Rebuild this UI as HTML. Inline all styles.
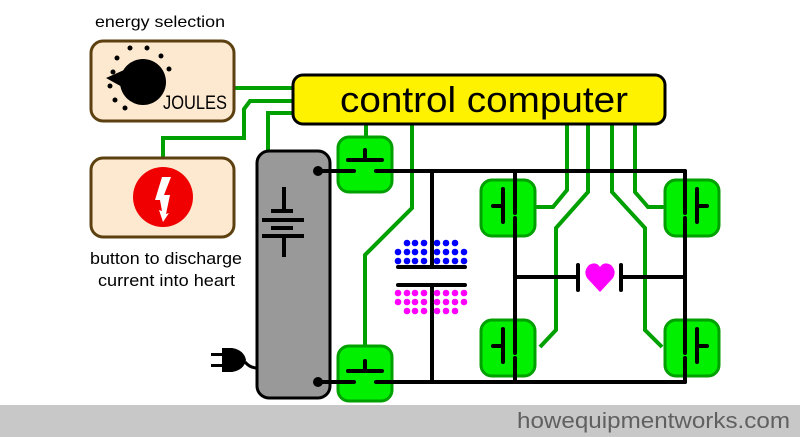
<!DOCTYPE html>
<html><head><meta charset="utf-8"><style>html,body{margin:0;padding:0;background:#fff}svg{display:block}</style></head>
<body>
<svg width="800" height="437" viewBox="0 0 800 437" xmlns="http://www.w3.org/2000/svg" font-family="Liberation Sans, sans-serif">
<rect x="0" y="405" width="800" height="32" fill="#c8c8c8"/>
<text x="517" y="428" font-size="22" fill="#606060" textLength="273" lengthAdjust="spacingAndGlyphs">howequipmentworks.com</text>

<!-- green control lines -->
<g stroke="#00a000" stroke-width="4" fill="none">
<polyline points="234,88 295,88"/>
<polyline points="295,101 250,101 244,109 244,138 163,138 163,158"/>
<polyline points="295,113 268,113 268,152"/>
<polyline points="366,122 366,140"/>
<polyline points="412,122 412,208 365,255 365,347"/>
<polyline points="567,122 567,190 553,207 535,207"/>
<polyline points="588,122 588,192 556,228 556,330 540,347"/>
<polyline points="612,122 612,192 645,228 645,330 662,347"/>
<polyline points="635,122 635,192 648,207 667,207"/>
</g>

<!-- energy box -->
<rect x="91" y="41" width="143" height="80" rx="12" fill="#fde9d0" stroke="#5c4010" stroke-width="3"/>
<circle cx="143" cy="82" r="23" fill="#000"/>
<polygon points="106,78 124,70 124,88" fill="#000"/>
<g fill="#000">
<circle cx="113" cy="72" r="2.5"/><circle cx="110" cy="86" r="2.5"/><circle cx="115" cy="100" r="2.5"/><circle cx="125" cy="108" r="2.5"/>
<circle cx="117" cy="58" r="2.5"/><circle cx="130" cy="48" r="2.5"/><circle cx="147" cy="48" r="2.5"/><circle cx="161" cy="56" r="2.5"/><circle cx="169" cy="69" r="2.5"/>
</g>
<text x="163" y="109" font-size="19" fill="#000" textLength="64" lengthAdjust="spacingAndGlyphs">JOULES</text>
<text x="95" y="27" font-size="16" fill="#000" textLength="130" lengthAdjust="spacingAndGlyphs">energy selection</text>

<!-- button box -->
<rect x="91" y="158" width="143" height="79" rx="12" fill="#fde9d0" stroke="#5c4010" stroke-width="3"/>
<circle cx="163" cy="197" r="30" fill="#f00000"/>
<polygon points="162,177 171,177 164,195 170,195 166,214 169,213 163,222 159,210 162,211 160,200 155,200" fill="#fff"/>
<text x="90" y="264" font-size="17" fill="#000" textLength="152" lengthAdjust="spacingAndGlyphs">button to discharge</text>
<text x="98" y="286" font-size="17" fill="#000" textLength="137" lengthAdjust="spacingAndGlyphs">current into heart</text>

<!-- control computer -->
<rect x="293" y="75" width="372" height="49" rx="10" fill="#fff200" stroke="#000" stroke-width="3"/>
<text x="340" y="112" font-size="36" fill="#000" textLength="288" lengthAdjust="spacingAndGlyphs">control computer</text>

<!-- battery -->
<rect x="257" y="151" width="73" height="247" rx="12" fill="#999" stroke="#000" stroke-width="3"/>
<g stroke="#000" stroke-width="4">
<line x1="284" y1="187" x2="284" y2="211"/>
<line x1="271" y1="211" x2="293" y2="211"/>
<line x1="262" y1="220" x2="304" y2="220"/>
<line x1="271" y1="228" x2="293" y2="228"/>
<line x1="262" y1="236" x2="304" y2="236"/>
<line x1="284" y1="236" x2="284" y2="257"/>
</g>
<!-- plug -->
<g fill="#000" stroke="#000">
<rect x="211" y="353" width="13" height="3" stroke="none"/>
<rect x="211" y="364" width="13" height="3" stroke="none"/>
<path d="M222,348 L232,348 Q244,350 246,360 Q244,370 232,372 L222,372 Z" stroke="none"/>
<path d="M245,362 Q250,368 257,368" fill="none" stroke-width="3"/>
</g>

<!-- switches -->
<g fill="#00f000" stroke="#00a000" stroke-width="3">
<rect x="338" y="137" width="54" height="55" rx="11"/>
<rect x="338" y="346" width="54" height="55" rx="11"/>
<rect x="481" y="180" width="54" height="56" rx="11"/>
<rect x="481" y="320" width="54" height="56" rx="11"/>
<rect x="665" y="180" width="54" height="56" rx="11"/>
<rect x="665" y="320" width="54" height="56" rx="11"/>
</g>

<!-- black wires -->
<g stroke="#000" stroke-width="4" fill="none" stroke-linecap="round">
<line x1="318" y1="171" x2="354" y2="171"/>
<line x1="376" y1="171" x2="685" y2="171"/>
<line x1="318" y1="382" x2="354" y2="382"/>
<line x1="376" y1="382" x2="685" y2="382"/>
<line x1="348" y1="160" x2="382" y2="160"/><line x1="365" y1="150" x2="365" y2="160"/>
<line x1="348" y1="371" x2="382" y2="371"/><line x1="365" y1="361" x2="365" y2="371"/>
<line x1="432" y1="171" x2="432" y2="267"/>
<line x1="398" y1="267" x2="465" y2="267"/>
<line x1="398" y1="285" x2="465" y2="285"/>
<line x1="432" y1="285" x2="432" y2="382"/>
<line x1="515" y1="171" x2="515" y2="213"/>
<line x1="515" y1="218" x2="515" y2="353"/>
<line x1="515" y1="358" x2="515" y2="382"/>
<line x1="503" y1="189" x2="503" y2="222"/><line x1="493" y1="206" x2="503" y2="206"/>
<line x1="503" y1="329" x2="503" y2="362"/><line x1="493" y1="346" x2="503" y2="346"/>
<line x1="685" y1="171" x2="685" y2="213"/>
<line x1="685" y1="218" x2="685" y2="353"/>
<line x1="685" y1="358" x2="685" y2="382"/>
<line x1="697" y1="189" x2="697" y2="222"/><line x1="697" y1="206" x2="707" y2="206"/>
<line x1="697" y1="329" x2="697" y2="362"/><line x1="697" y1="346" x2="707" y2="346"/>
<line x1="515" y1="277" x2="577" y2="277"/>
<line x1="578" y1="265" x2="578" y2="290"/>
<line x1="621" y1="265" x2="621" y2="290"/>
<line x1="621" y1="277" x2="685" y2="277"/>
</g>
<circle cx="318" cy="171" r="5" fill="#000"/>
<circle cx="318" cy="382" r="5" fill="#000"/>
<path d="M600,292 L587,278 Q583,271 589,265 Q596,261 600,267 Q604,261 611,265 Q617,271 613,278 Z" fill="#ff00ff"/>

<!-- charge dots -->
<g fill="#0000ff">
<circle cx="407" cy="243" r="3.3"/><circle cx="415" cy="243" r="3.3"/><circle cx="424" cy="243" r="3.3"/>
<circle cx="437" cy="243" r="3.3"/><circle cx="446" cy="243" r="3.3"/><circle cx="455" cy="243" r="3.3"/>
<circle cx="398" cy="252" r="3.3"/><circle cx="407" cy="252" r="3.3"/><circle cx="415" cy="252" r="3.3"/><circle cx="424" cy="252" r="3.3"/>
<circle cx="437" cy="252" r="3.3"/><circle cx="446" cy="252" r="3.3"/><circle cx="455" cy="252" r="3.3"/><circle cx="464" cy="252" r="3.3"/>
<circle cx="398" cy="261" r="3.3"/><circle cx="407" cy="261" r="3.3"/><circle cx="415" cy="261" r="3.3"/><circle cx="424" cy="261" r="3.3"/>
<circle cx="437" cy="261" r="3.3"/><circle cx="446" cy="261" r="3.3"/><circle cx="455" cy="261" r="3.3"/><circle cx="464" cy="261" r="3.3"/>
</g>
<g fill="#ff00ff">
<circle cx="398" cy="293" r="3.3"/><circle cx="407" cy="293" r="3.3"/><circle cx="415" cy="293" r="3.3"/><circle cx="424" cy="293" r="3.3"/>
<circle cx="437" cy="293" r="3.3"/><circle cx="446" cy="293" r="3.3"/><circle cx="455" cy="293" r="3.3"/><circle cx="464" cy="293" r="3.3"/>
<circle cx="398" cy="302" r="3.3"/><circle cx="407" cy="302" r="3.3"/><circle cx="415" cy="302" r="3.3"/><circle cx="424" cy="302" r="3.3"/>
<circle cx="437" cy="302" r="3.3"/><circle cx="446" cy="302" r="3.3"/><circle cx="455" cy="302" r="3.3"/><circle cx="464" cy="302" r="3.3"/>
<circle cx="407" cy="311" r="3.3"/><circle cx="415" cy="311" r="3.3"/><circle cx="424" cy="311" r="3.3"/>
<circle cx="437" cy="311" r="3.3"/><circle cx="446" cy="311" r="3.3"/><circle cx="455" cy="311" r="3.3"/>
</g>
</svg>
</body></html>
